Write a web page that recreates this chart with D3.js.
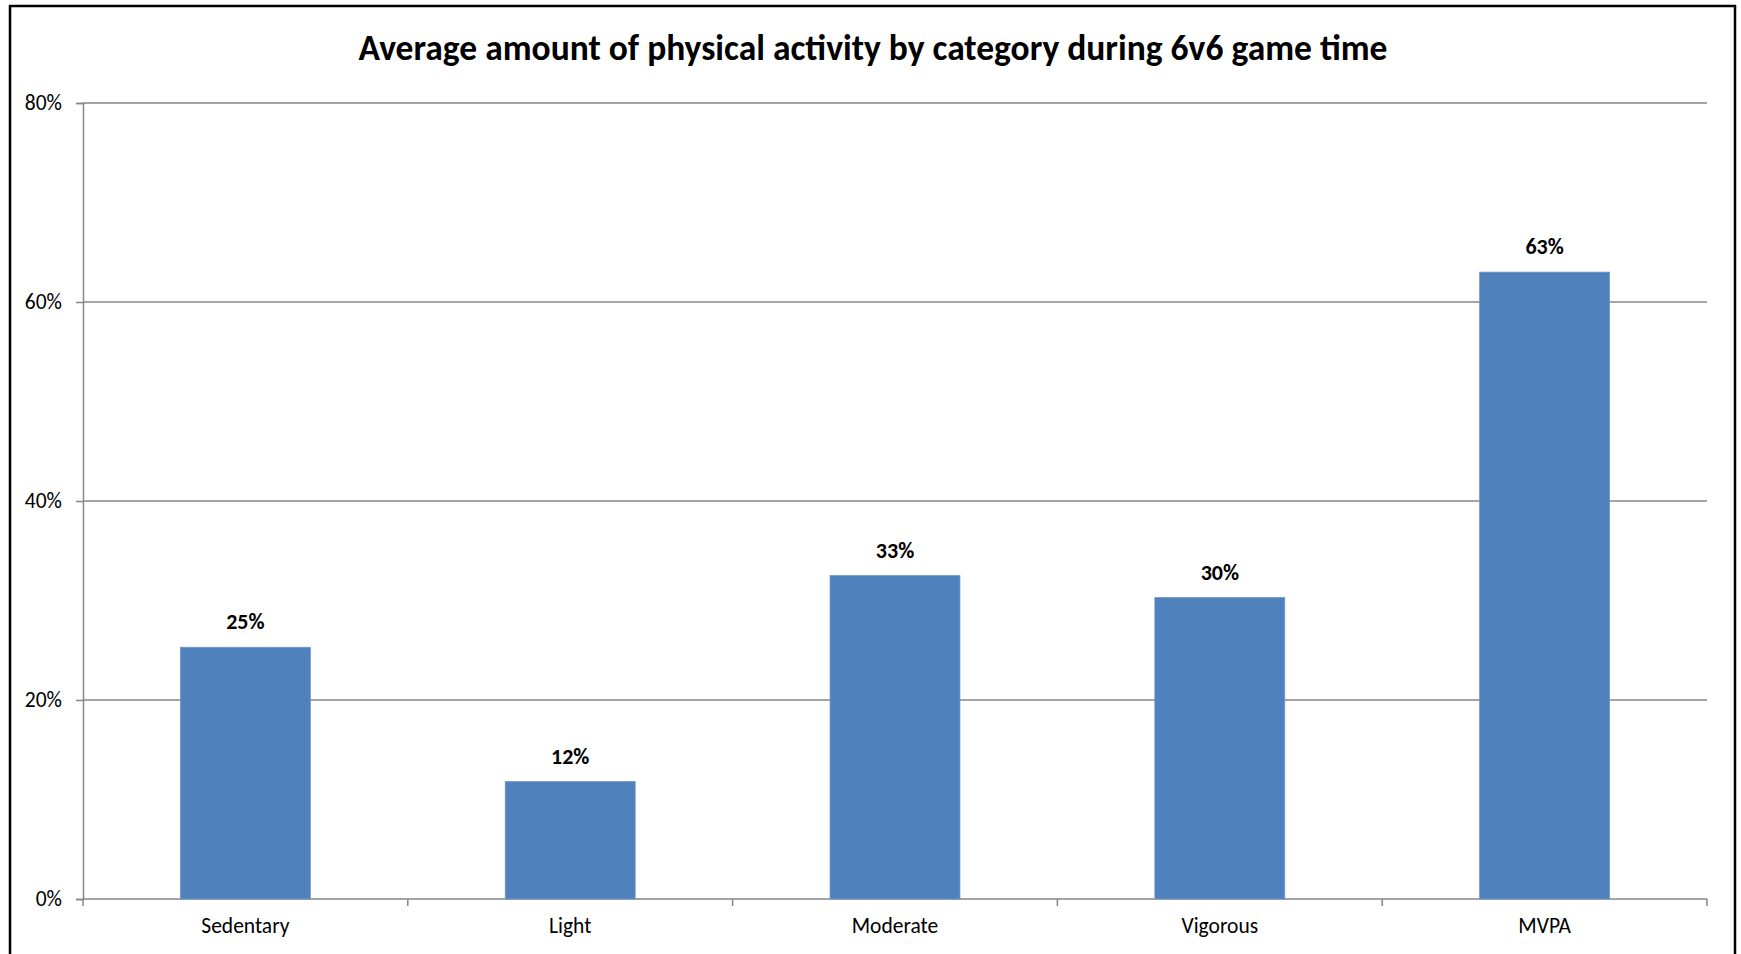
<!DOCTYPE html>
<html>
<head>
<meta charset="utf-8">
<script src="https://cdnjs.cloudflare.com/ajax/libs/d3/7.8.5/d3.min.js"></script>
<style>
  body { margin: 0; background: #fff; }
  text { font-family: Carlito, Calibri, Lato, sans-serif; fill: #000; }
</style>
</head>
<body>
<div id="chart"></div>
<script>
// Data
var categories = ["Sedentary", "Light", "Moderate", "Vigorous", "MVPA"];
var values = [25.3, 11.8, 32.5, 30.3, 63.0];
var valueLabels = ["25%", "12%", "33%", "30%", "63%"];
var yTicks = [0, 20, 40, 60, 80];

var svgWidth = 1741;
var svgHeight = 954;

var margin = { top: 103, right: 34, bottom: 55, left: 83 };
var width = svgWidth - margin.left - margin.right;
var height = svgHeight - margin.top - margin.bottom;

var svg = d3.select("#chart")
  .append("svg")
  .attr("width", svgWidth)
  .attr("height", svgHeight);

// outer frame (runs off the bottom of the picture)
svg.append("rect")
  .attr("x", 10)
  .attr("y", 6)
  .attr("width", 1725)
  .attr("height", 1000)
  .attr("fill", "none")
  .attr("stroke", "#000")
  .attr("stroke-width", 2.5);

svg.append("text")
  .attr("x", 873)
  .attr("y", 60)
  .attr("text-anchor", "middle")
  .attr("font-size", 35.5)
  .attr("font-weight", "bold")
  .text("Average amount of physical activity by category during 6v6 game time");

var chartGroup = svg.append("g")
  .attr("transform", `translate(${margin.left}, ${margin.top})`);

var xScale = d3.scaleBand()
  .domain(categories)
  .range([0, width])
  .paddingInner(0.6)
  .paddingOuter(0.3);

var xBand = d3.scaleBand()
  .domain(categories)
  .range([0, width]);

var yScale = d3.scaleLinear()
  .domain([0, 80])
  .range([height, 0]);

// gridlines
chartGroup.selectAll("line.grid")
  .data(yTicks.slice(1))
  .enter()
  .append("line")
  .attr("class", "grid")
  .attr("x1", 0)
  .attr("x2", width)
  .attr("y1", d => yScale(d))
  .attr("y2", d => yScale(d))
  .attr("stroke", "#868686")
  .attr("stroke-width", 1.5);

// y axis
var yAxis = d3.axisLeft(yScale)
  .tickValues(yTicks)
  .tickSize(7)
  .tickPadding(14)
  .tickFormat(d => d + "%");

var yAxisG = chartGroup.append("g").call(yAxis);
yAxisG.select(".domain").attr("stroke", "#868686").attr("stroke-width", 1.5);
yAxisG.selectAll(".tick line").attr("stroke", "#868686").attr("stroke-width", 1.5);
yAxisG.selectAll(".tick text")
  .attr("font-size", 21.5)
  .attr("font-family", "Carlito, Calibri, Lato, sans-serif")
  .attr("fill", "#000");

// x axis: baseline plus ticks on category boundaries
chartGroup.append("line")
  .attr("x1", 0)
  .attr("x2", width)
  .attr("y1", height)
  .attr("y2", height)
  .attr("stroke", "#868686")
  .attr("stroke-width", 1.5);

chartGroup.selectAll("line.xtick")
  .data(categories.concat(["end"]))
  .enter()
  .append("line")
  .attr("class", "xtick")
  .attr("x1", (d, i) => i < categories.length ? xBand(d) : width)
  .attr("x2", (d, i) => i < categories.length ? xBand(d) : width)
  .attr("y1", height)
  .attr("y2", height + 7)
  .attr("stroke", "#868686")
  .attr("stroke-width", 1.5);

chartGroup.selectAll("text.xlabel")
  .data(categories)
  .enter()
  .append("text")
  .attr("class", "xlabel")
  .attr("x", d => xBand(d) + xBand.bandwidth() / 2)
  .attr("y", height + 34)
  .attr("text-anchor", "middle")
  .attr("font-size", 21.5)
  .text(d => d);

// bars
chartGroup.selectAll("rect.bar")
  .data(values)
  .enter()
  .append("rect")
  .attr("class", "bar")
  .attr("x", (d, i) => xScale(categories[i]))
  .attr("y", d => yScale(d))
  .attr("width", xScale.bandwidth())
  .attr("height", d => height - yScale(d))
  .attr("fill", "#4F81BD")
  .attr("stroke", "#6f97c9")
  .attr("stroke-width", 0.8);

// value labels
chartGroup.selectAll("text.vlabel")
  .data(values)
  .enter()
  .append("text")
  .attr("class", "vlabel")
  .attr("x", (d, i) => xScale(categories[i]) + xScale.bandwidth() / 2)
  .attr("y", d => yScale(d) - 18)
  .attr("text-anchor", "middle")
  .attr("font-size", 22)
  .attr("font-weight", "bold")
  .text((d, i) => valueLabels[i]);
</script>
</body>
</html>
